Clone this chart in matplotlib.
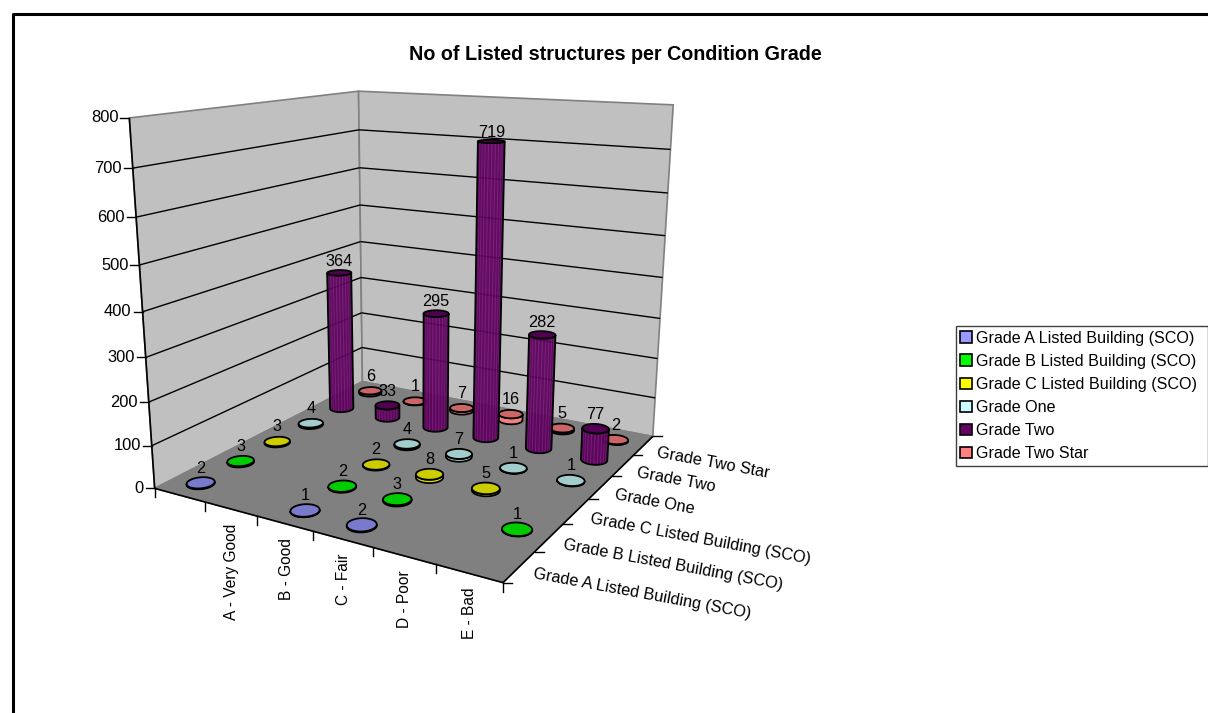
import numpy as np
import matplotlib
matplotlib.use('Agg')
import matplotlib.pyplot as plt
from matplotlib.patches import Polygon, Patch

plt.rcParams['font.family'] = ['Liberation Sans', 'DejaVu Sans']

title = 'No of Listed structures per Condition Grade'
conditions = ['', 'A - Very Good', 'B - Good', 'C - Fair', 'D - Poor', 'E - Bad']
grades = ['Grade A Listed Building (SCO)', 'Grade B Listed Building (SCO)',
          'Grade C Listed Building (SCO)', 'Grade One', 'Grade Two', 'Grade Two Star']
value_ticks = [0, 100, 200, 300, 400, 500, 600, 700, 800]

# None = blank cell in the sheet, nothing drawn
grade_a = [2, None, 1, 2, None, None]
grade_b = [3, None, 2, 3, None, 1]
grade_c = [3, None, 2, 8, 5, None]
grade_one = [4, None, 4, 7, 1, 1]
grade_two = [364, 33, 295, 719, 282, 77]
grade_two_star = [6, 1, 7, 16, 5, 2]
rows = [grade_a, grade_b, grade_c, grade_one, grade_two, grade_two_star]

legend_colors = ['#9999FF', '#00FF00', '#FFFF00', '#CCFFFF', '#660066', '#FF8080']
top_colors = ['#7A7ACC', '#00CC00', '#CCCC00', '#A3CCCC', '#520052', '#CC6666']
side_colors = ['#8A8AE6', '#00E600', '#E6E600', '#B8E6E6', '#660066', '#FF8080']

RX, RY = 0.215, 0.22


def fit_camera():
    # corners of the 3d box as they land on the page
    world = [(0, 0, 0), (6, 0, 0), (6, 6, 0), (0, 6, 0), (0, 0, 800), (0, 6, 800), (6, 6, 800)]
    page = [(155, 488), (503, 583), (653, 436), (362, 382), (129, 118), (359, 91), (673, 105)]
    A = []
    for (x, y, z), (u, v) in zip(world, page):
        z = z / 100
        A.append([x, y, z, 1, 0, 0, 0, 0, -u * x, -u * y, -u * z, -u])
        A.append([0, 0, 0, 0, x, y, z, 1, -v * x, -v * y, -v * z, -v])
    return np.linalg.svd(np.array(A, float))[2][-1].reshape(3, 4)


cam = fit_camera()


def proj(x, y, z):
    x, y, z = np.broadcast_arrays(x, y, z)
    p = np.stack([x, y, z / 100, np.ones_like(x, dtype=float)])
    q = cam @ p
    return q[0] / q[2], q[1] / q[2]


def pts(x, y, z):
    return np.column_stack(proj(np.asarray(x, float), np.asarray(y, float), np.asarray(z, float)))


def line(ax, a, b, color='black', lw=1.0, z=1):
    p = pts(*np.array([a, b], float).T)
    ax.plot(p[:, 0], p[:, 1], color=color, lw=lw, zorder=z, solid_capstyle='butt')


def cylinder(ax, i, j, val, zo):
    t = np.linspace(0, 2 * np.pi, 73)[:-1]
    cx, cy = i + 0.5, j + 0.5
    xs, ys = cx + RX * np.cos(t), cy + RY * np.sin(t)
    bot = pts(xs, ys, 0 * t)
    top = pts(xs, ys, 0 * t + val)

    # front arc of the base, left extreme to right extreme
    l, r = bot[:, 0].argmin(), bot[:, 0].argmax()
    a1 = np.arange(l, r + 1 if r > l else r + 73) % 72
    a2 = np.arange(r, l + 1 if l > r else l + 73) % 72
    arc = a1 if bot[a1, 1].mean() > bot[a2, 1].mean() else a2
    body = np.vstack([bot[arc], top[arc][::-1]])
    ax.add_patch(Polygon(body, closed=True, fc=side_colors[j], ec='none', alpha=0.9, zorder=zo))

    # streaks on the purple columns
    if j == 4:
        for n, k in enumerate(arc[2:-2]):
            shade = '#A040A0' if n % 3 == 1 else '#3C003C'
            ax.plot([bot[k, 0], top[k, 0]], [bot[k, 1], top[k, 1]], color=shade,
                    lw=0.7, alpha=0.3, zorder=zo + 0.05)

    ax.add_patch(Polygon(body, closed=True, fc='none', ec='black', lw=1.3, zorder=zo + 0.1))
    ax.add_patch(Polygon(top, closed=True, fc=top_colors[j], ec='black', lw=1.3, zorder=zo + 0.2))


fig = plt.figure(figsize=(12.08, 7.13), dpi=100)
ax = fig.add_axes([0, 0, 1, 1])
ax.set_xlim(0, 1208)
ax.set_ylim(713, 0)
ax.axis('off')

# outer frame, chart runs off the right and bottom
ax.plot([12.5, 12.5, 1208], [713, 13.5, 13.5], color='black', lw=2.2, zorder=0.5)

ax.text(615, 55, title, ha='center', va='center', fontsize=14.2, fontweight='bold')

# walls and floor
left_wall = pts([0, 0, 0, 0], [0, 6, 6, 0], [0, 0, 800, 800])
back_wall = pts([0, 6, 6, 0], [6, 6, 6, 6], [0, 0, 800, 800])
floor = pts([0, 6, 6, 0], [0, 0, 6, 6], [0, 0, 0, 0])
ax.add_patch(Polygon(left_wall, fc='#C0C0C0', ec='#808080', lw=1.2, zorder=1))
ax.add_patch(Polygon(back_wall, fc='#C0C0C0', ec='#808080', lw=1.2, zorder=1))
ax.add_patch(Polygon(floor, fc='#808080', ec='#808080', lw=1, zorder=1.1))

for v in value_ticks[1:-1]:
    line(ax, (0, 0, v), (0, 6, v), z=1.2)
    line(ax, (0, 6, v), (6, 6, v), z=1.2)

line(ax, (0, 0, 0), (0, 0, 800), lw=1.2, z=1.3)
line(ax, (0, 0, 0), (6, 0, 0), lw=1.2, z=1.3)
line(ax, (6, 0, 0), (6, 6, 0), lw=1.2, z=1.3)

# value axis
for v in value_ticks:
    px, py = proj(0.0, 0.0, float(v))
    ax.plot([px - 9, px], [py, py], color='black', lw=1, zorder=1.3)
    ax.text(px - 11, py, str(v), ha='right', va='center', fontsize=11.9)

# condition axis
for i in range(7):
    px, py = proj(float(i), 0.0, 0.0)
    ax.plot([px, px], [py, py + 9], color='black', lw=1, zorder=1.3)
for i, name in enumerate(conditions):
    px, py = proj(i + 0.5, 0.0, 0.0)
    ax.text(px + 1, py + 14.5, name, rotation=90, ha='center', va='top', fontsize=11.2)

# grade axis
for j in range(7):
    px, py = proj(6.0, float(j), 0.0)
    ax.plot([px, px + 9], [py, py], color='black', lw=1, zorder=1.3)
for j, name in enumerate(grades):
    px, py = proj(6.0, j + 0.5, 0.0)
    ax.text(px + 14, py + 7, name, rotation=-10.5, rotation_mode='anchor',
            ha='left', va='center', fontsize=11.8)

# columns, back row first
zo = 2
for j in range(5, -1, -1):
    for i in range(6):
        val = rows[j][i]
        if val is None:
            continue
        cylinder(ax, i, j, val, zo)
        zo += 1

for j in range(6):
    for i in range(6):
        val = rows[j][i]
        if val is None:
            continue
        px, py = proj(i + 0.5, j + 0.5, float(val))
        ax.text(px, py - 14.5 + 5.5 * val / 719, str(val), ha='center', va='center',
                fontsize=11.7, zorder=500)

handles = [Patch(fc=c, ec='black', lw=1.2) for c in legend_colors]
leg = ax.legend(handles, grades, loc='upper left', bbox_to_anchor=(955.5, 326, 252, 0),
                bbox_transform=ax.transData, mode='expand', fontsize=11.65, frameon=True,
                fancybox=False, edgecolor='#404040', framealpha=1, borderpad=0.3,
                labelspacing=0.5, handlelength=0.73, handleheight=0.73, handletextpad=0.22,
                borderaxespad=0)
leg.get_frame().set_linewidth(1.0)
leg.set_zorder(600)

fig.savefig('out.png', dpi=100)
